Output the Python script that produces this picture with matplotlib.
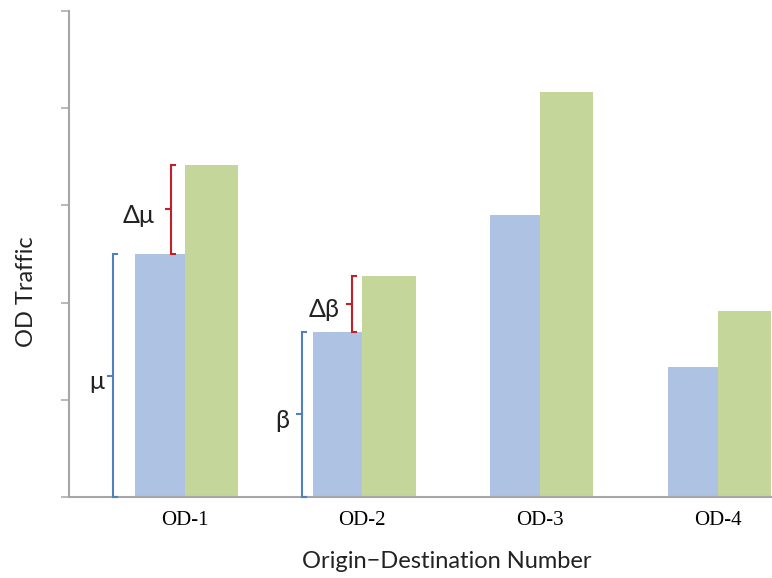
import matplotlib
matplotlib.use("Agg")
import matplotlib.pyplot as plt
import numpy as np

# data
categories = ["OD-1", "OD-2", "OD-3", "OD-4"]
base_traffic = [2.50, 1.70, 2.90, 1.34]    # blue bars
new_traffic = [3.42, 2.27, 4.17, 1.91]     # green bars

# brackets: (category index, label)
bracket_cats = [0, 0, 1, 1]
bracket_labels = ["μ", "Δμ", "β", "Δβ"]

blue = "#AEC2E4"
green = "#C5D69B"
grey = "#A6A6A6"
bl_line = "#4F81BD"
rd_line = "#C0202A"
sans = ["Lato", "DejaVu Sans"]

fig = plt.figure(figsize=(7.72, 5.78), dpi=100)
ax = fig.add_axes([69/772, 81/578, 703/772, 486/578])

x = np.arange(len(categories))
ax.bar(x, base_traffic, width=-0.28, align="edge", color=blue, zorder=2)
ax.bar(x, new_traffic, width=0.30, align="edge", color=green, zorder=2)

ax.set_xlim(-0.65, 3.304)
ax.set_ylim(0, 5)
ax.set_yticks(np.arange(0, 6))
ax.set_yticklabels([])
ax.tick_params(axis="y", direction="out", length=6, width=1.1, color=grey)
ax.set_xticks(x)
ax.set_xticklabels(categories, fontfamily="Liberation Serif", fontsize=15)
ax.tick_params(axis="x", length=0, pad=10)
for s in ["top", "right"]:
    ax.spines[s].set_visible(False)
for s in ["left", "bottom"]:
    ax.spines[s].set_color(grey)
    ax.spines[s].set_linewidth(1.5)
    ax.spines[s].set_zorder(3)


def bracket(xb, y0, y1, color, label, xt):
    serif = 0.022
    mid = (y0 + y1) / 2
    ax.plot([xb + serif, xb, xb, xb + serif], [y0, y0, y1, y1],
            color=color, lw=1.5, solid_joinstyle="miter", zorder=4, clip_on=False)
    ax.plot([xb, xb - 0.028], [mid, mid], color=color, lw=1.5, zorder=4)
    ax.text(xt, mid - 0.06, label, ha="center", va="center", fontsize=18,
            family=sans, color="#222222")


# bracket x positions and label positions (axis units relative to category)
b_off = [-0.402, -0.076, -0.340, -0.059]
t_off = [-0.495, -0.256, -0.450, -0.217]
for k, (c, lab) in enumerate(zip(bracket_cats, bracket_labels)):
    if k % 2 == 0:
        y0, y1, col = 0, base_traffic[c], bl_line
    else:
        y0, y1, col = base_traffic[c], new_traffic[c], rd_line
    bracket(c + b_off[k], y0, y1, col, lab, c + t_off[k])

ax.set_xlabel("Origin\u2212Destination Number", family=sans, fontsize=17,
              color="#222222")
ax.xaxis.set_label_coords(0.538, -0.112)
ax.set_ylabel("OD Traffic", family=sans, fontsize=17, color="#222222")
ax.yaxis.set_label_coords(-0.045, 0.422)

fig.savefig("out.png", dpi=100)
